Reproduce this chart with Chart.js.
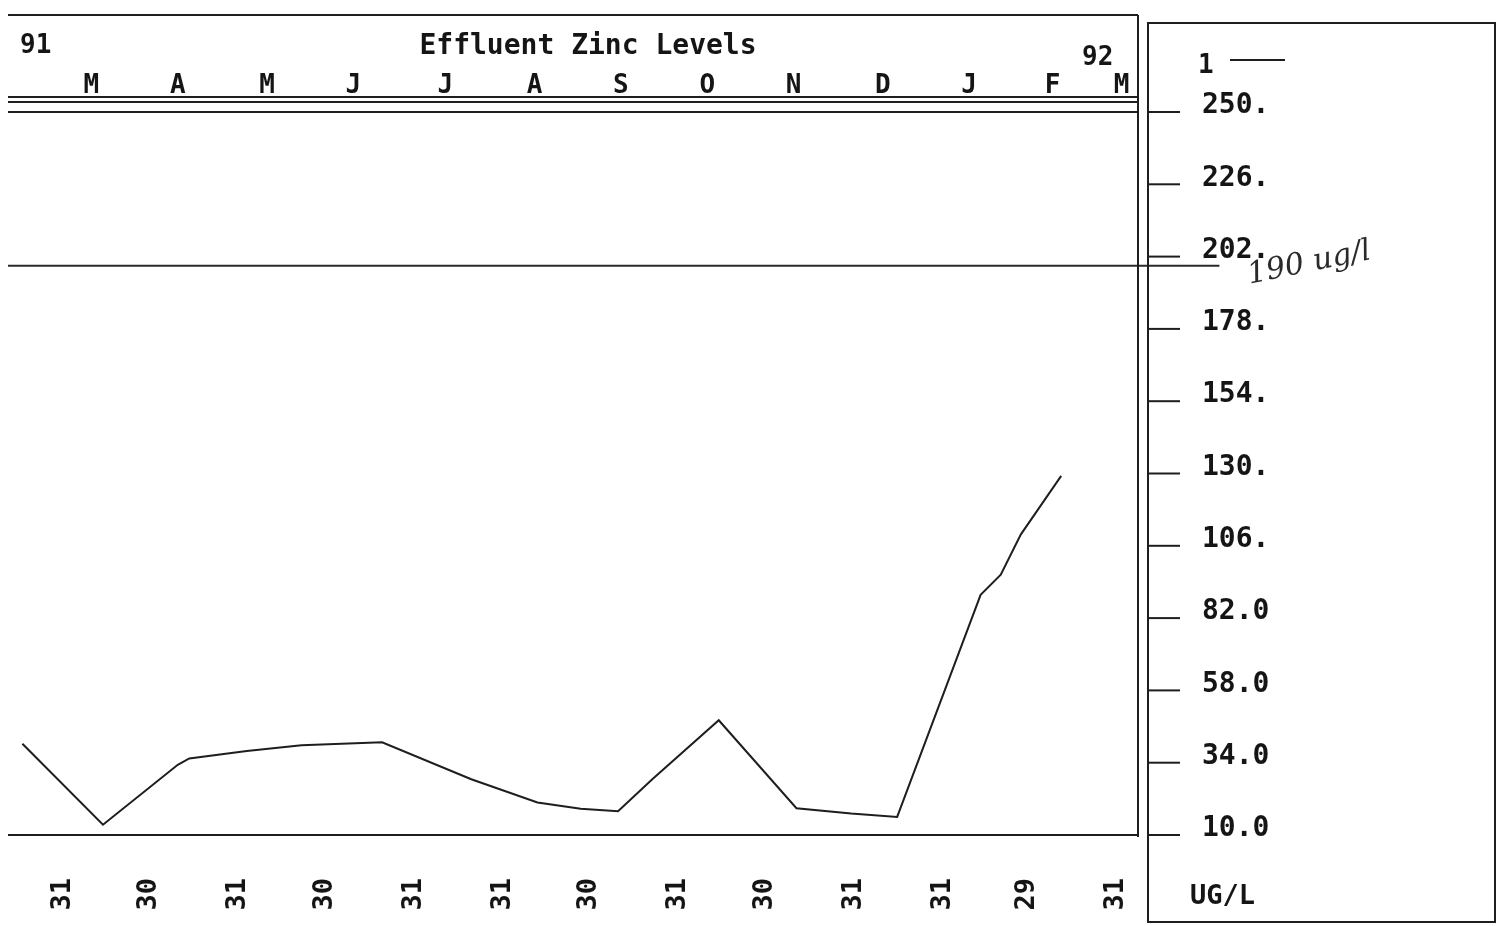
<!DOCTYPE html>
<html>
<head>
<meta charset="utf-8">
<script src="https://cdn.jsdelivr.net/npm/chart.js@4.4.0/dist/chart.umd.min.js"></script>
<style>
  html, body { margin: 0; padding: 0; background: #fff; }
  #wrap { position: relative; width: 1498px; height: 926px; }
</style>
</head>
<body>
<div id="wrap"><canvas id="zinc" width="1498" height="926"></canvas></div>
<script>
// x = days counted from 31 Mar 1991
const sampleDays = [-14, 14, 40, 44, 64, 83, 111, 142, 165, 180, 193, 205, 228, 255, 274, 290, 319, 326, 333, 347];
const zincLevels = [40.3, 13.4, 33.3, 35.4, 37.9, 39.8, 40.8, 28.5, 20.8, 18.7, 17.9, 28.6, 48.1, 18.9, 17.1, 16.0, 89.7, 96.4, 109.8, 129.2];

const monthEndDays = [0, 30, 61, 91, 122, 153, 183, 214, 244, 275, 306, 335, 366];
const monthEndLabels = ['31', '30', '31', '30', '31', '31', '30', '31', '30', '31', '31', '29', '31'];
const monthLetterDays = [10, 40, 71, 101, 133, 164, 194, 224, 254, 285, 315, 344, 368];
const monthLetters = ['M', 'A', 'M', 'J', 'J', 'A', 'S', 'O', 'N', 'D', 'J', 'F', 'M'];

const yTicks = [10, 34, 58, 82, 106, 130, 154, 178, 202, 226, 250];
const limitLevel = 199;

const ink = '#151515';
const mono = 'DejaVu Sans Mono';

// boxes, tick marks and the loose texts of the printout
const framePlugin = {
    id: 'frames',
    afterDraw(chart) {
        const ctx = chart.ctx;
        const a = chart.chartArea;
        const y = chart.scales.y;
        const line = (x1, y1, x2, y2) => {
            ctx.beginPath();
            ctx.moveTo(x1, y1);
            ctx.lineTo(x2, y2);
            ctx.stroke();
        };
        ctx.save();
        ctx.strokeStyle = '#1e1e1e';
        ctx.lineWidth = 2;

        // header box
        line(a.left, 15, a.right + 2, 15);
        line(a.left, 97, a.right + 2, 97);
        line(a.left, 102, a.right + 2, 102);
        // plot box
        line(a.left, a.top, a.right + 2, a.top);
        line(a.left, a.bottom, a.right + 2, a.bottom);
        line(a.right + 2, 15, a.right + 2, a.bottom + 2);

        // right panel
        const px = a.right + 12;
        ctx.strokeRect(px, 23, 1495 - px, 922 - 23);
        y.ticks.forEach(t => {
            const py = y.getPixelForValue(t.value);
            line(px, py, px + 32, py);
        });

        ctx.fillStyle = ink;
        ctx.textBaseline = 'middle';
        ctx.textAlign = 'center';
        ctx.font = 'bold 28px "' + mono + '"';
        ctx.fillText('Effluent Zinc Levels', 588, 47);

        ctx.textAlign = 'left';
        ctx.font = 'bold 26px "' + mono + '"';
        ctx.fillText('91', 20, 46);
        ctx.fillText('92', 1082, 58);
        ctx.fillText('1', 1198, 66);
        line(1230, 60, 1285, 60);
        ctx.font = 'bold 27px "' + mono + '"';
        ctx.fillText('UG/L', 1190, 897);

        // handwritten note beside the limit line
        ctx.save();
        ctx.translate(1248, 276);
        ctx.rotate(-0.2);
        ctx.fillStyle = '#2a2a2a';
        ctx.font = 'italic 30px "DejaVu Serif"';
        ctx.fillText('190 ug/l', 0, 0);
        ctx.restore();

        ctx.restore();
    }
};

new Chart(document.getElementById('zinc'), {
    type: 'line',
    data: {
        datasets: [{
            label: '1',
            data: sampleDays.map((d, i) => ({ x: d, y: zincLevels[i] })),
            borderColor: '#1e1e1e',
            borderWidth: 2,
            pointRadius: 0,
            tension: 0
        }, {
            label: 'limit',
            data: [{ x: -19, y: limitLevel }, { x: 402, y: limitLevel }],
            borderColor: '#2a2a2a',
            borderWidth: 2,
            pointRadius: 0,
            clip: false
        }]
    },
    options: {
        responsive: false,
        animation: false,
        layout: { padding: { left: 8, right: 0, top: 0, bottom: 0 } },
        plugins: {
            legend: { display: false },
            tooltip: { enabled: false }
        },
        scales: {
            x: {
                type: 'linear',
                position: 'bottom',
                min: -19,
                max: 373,
                grid: { display: false },
                border: { display: false },
                afterBuildTicks: s => { s.ticks = monthEndDays.map(v => ({ value: v })); },
                afterFit: s => { s.height = 91; },
                ticks: {
                    autoSkip: false,
                    minRotation: 90,
                    maxRotation: 90,
                    padding: 35,
                    color: ink,
                    font: { family: mono, size: 27, weight: 'bold' },
                    callback: (v, i) => monthEndLabels[i]
                }
            },
            x2: {
                type: 'linear',
                axis: 'x',
                position: 'top',
                min: -19,
                max: 373,
                grid: { display: false },
                border: { display: false },
                afterBuildTicks: s => { s.ticks = monthLetterDays.map(v => ({ value: v })); },
                afterFit: s => { s.height = 112; },
                ticks: {
                    autoSkip: false,
                    minRotation: 0,
                    maxRotation: 0,
                    padding: 2,
                    color: ink,
                    font: { family: mono, size: 26, weight: 'bold' },
                    callback: (v, i) => monthLetters[i]
                }
            },
            y: {
                type: 'linear',
                position: 'right',
                min: 10,
                max: 250,
                grid: { display: false },
                border: { display: false },
                afterBuildTicks: s => { s.ticks = yTicks.map(v => ({ value: v })); },
                afterFit: s => { s.width = 362; },
                ticks: {
                    padding: 58,
                    labelOffset: -6,
                    color: ink,
                    font: { family: mono, size: 28, weight: 'bold' },
                    callback: v => v >= 100 ? v + '.' : v.toFixed(1)
                }
            }
        }
    },
    plugins: [framePlugin]
});
</script>
</body>
</html>
